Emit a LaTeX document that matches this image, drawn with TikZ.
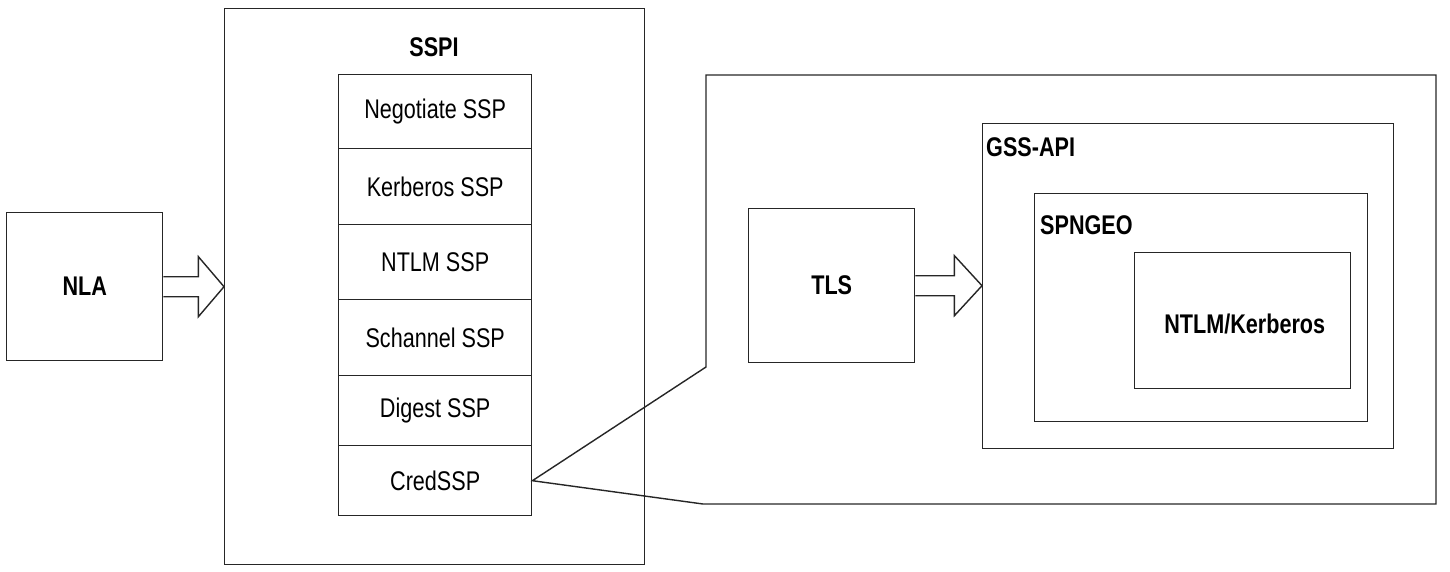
\documentclass[tikz,border=0pt]{standalone}
\usepackage{fontspec}
\setmainfont[FakeStretch=0.8]{Liberation Sans}
\usetikzlibrary{calc}
\begin{document}
\begin{tikzpicture}[x=1pt,y=-1pt,
  ln/.style={draw=black!85, line width=1.4pt},
  box/.style={ln, inner sep=0pt, anchor=north west, fill=white},
  row/.style={box, minimum width=193pt},
  lbl/.style={inner sep=0pt, font=\fontsize{27}{31}\selectfont\bfseries},
  txt/.style={inner sep=0pt, font=\fontsize{27}{31}\selectfont},
  blk/.style={ln, fill=white, line join=miter}]
\useasboundingbox (0,0) rectangle (1450,572);
% SSPI container
\node[box, minimum width=420pt, minimum height=556pt] (sspi) at (224,8) {};
\node[lbl] (sspilbl) at (434,47) {SSPI};
% stack rows
\node[row, minimum height=74pt] (neg) at (338,74) {};
\node[txt] at (neg.center) {Negotiate SSP};
\node[row, minimum height=76pt] (ker) at (338,148) {};
\node[txt] at (ker.center) {Kerberos SSP};
\node[row, minimum height=75pt] (ntlm) at (338,224) {};
\node[txt] at (ntlm.center) {NTLM SSP};
\node[row, minimum height=76pt] (sch) at (338,299) {};
\node[txt] at (sch.center) {Schannel SSP};
\node[row, minimum height=70pt] (dig) at (338,375) {};
\node[txt] at (dig.center) {Digest SSP};
\node[row, minimum height=70pt] (cred) at (338,445) {};
\node[txt] at (cred.center) {CredSSP};
% NLA
\node[box, minimum width=156pt, minimum height=148pt] (nla) at (6,212) {};
\node[lbl] at (nla.center) {NLA};
% callout
\coordinate (c1) at (706,367);
\coordinate (c2) at (706,75);
\coordinate (c3) at (1436,75);
\coordinate (c4) at (1436,504);
\coordinate (c5) at (703,504);
\draw[ln, line join=miter] (cred.east) -- (c1) -- (c2) -- (c3) -- (c4) -- (c5) -- cycle;
% TLS
\node[box, minimum width=166pt, minimum height=154pt] (tls) at (748,208) {};
\node[lbl] at (tls.center) {TLS};
% GSS-API
\node[box, minimum width=411pt, minimum height=325pt] (gss) at (982,123) {};
\node[lbl, anchor=west] at (986,147) {GSS-API};
\node[box, minimum width=333pt, minimum height=228pt] (spn) at (1034,193) {};
\node[lbl, anchor=west] at (1040,225) {SPNGEO};
\node[box, minimum width=216pt, minimum height=136pt] (nk) at (1134,252) {};
\node[lbl] at ($(nk.center)+(2,3)$) {NTLM/Kerberos};
% block arrows
\draw[blk] ($(nla.east)+(0,-10)$) -- ++(35,0) -- ++(0,-20) -- (sspi.west |- nla.east)
  -- ($(nla.east)+(35,30)$) -- ++(0,-20) -- ++(-35,0);
\draw[blk] ($(tls.east)+(0,-10)$) -- ++(39,0) -- ++(0,-20) -- (gss.west |- tls.east)
  -- ($(tls.east)+(39,30)$) -- ++(0,-20) -- ++(-39,0);
\end{tikzpicture}
\end{document}
